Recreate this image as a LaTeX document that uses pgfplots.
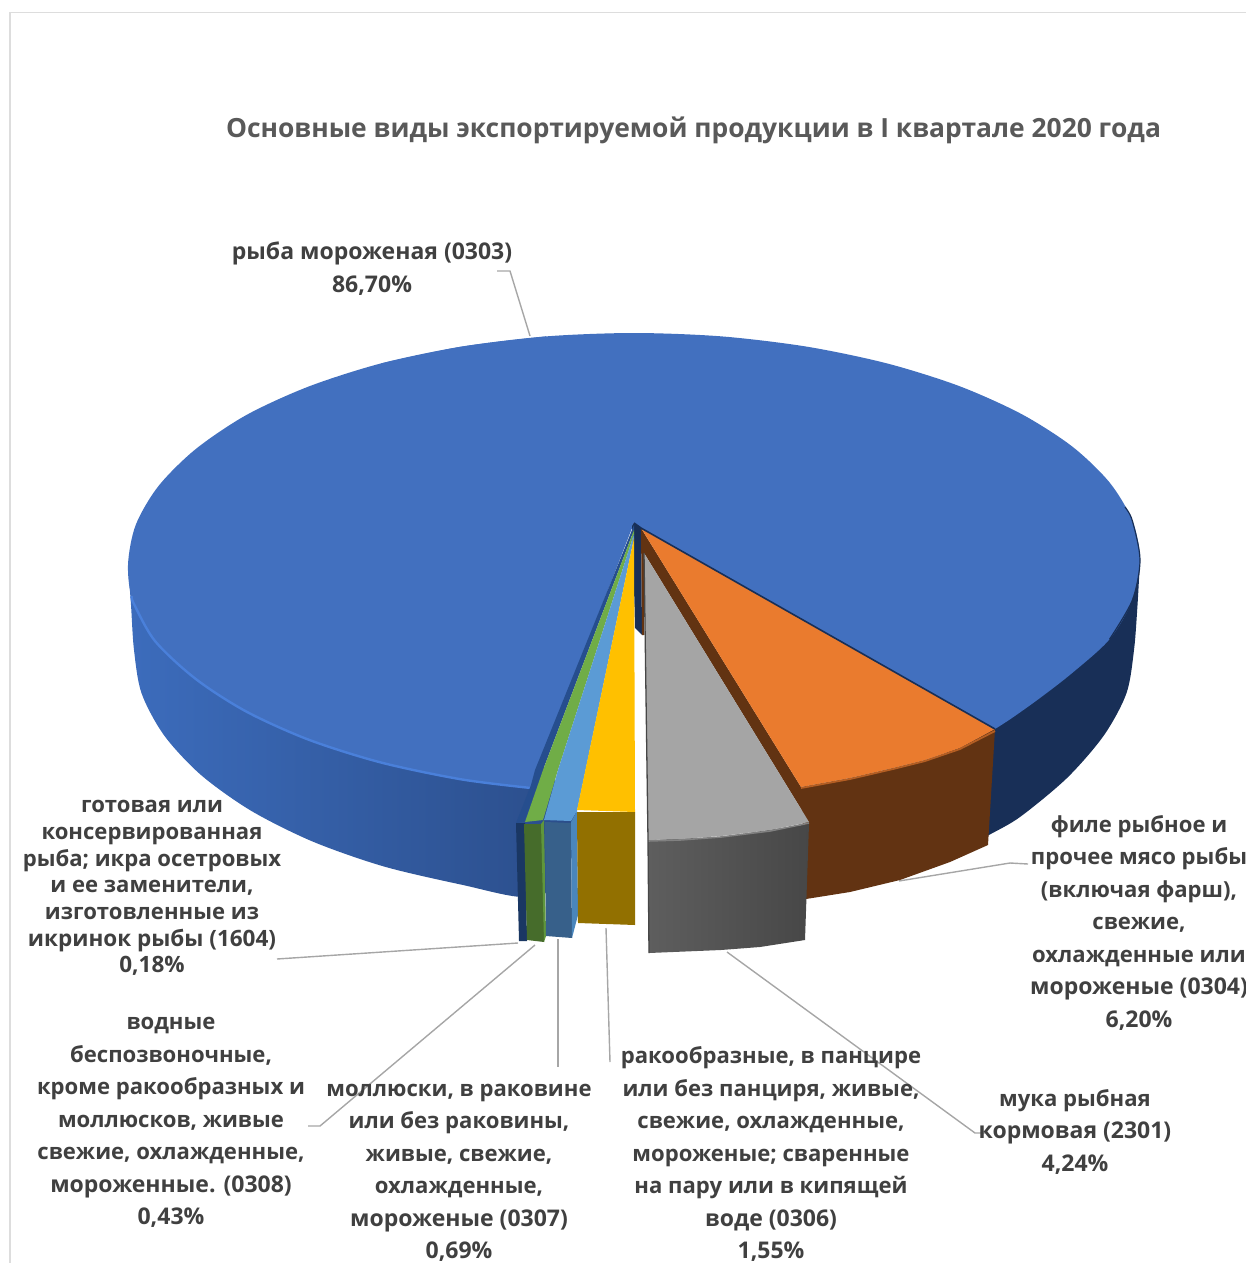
\documentclass[border=0pt]{standalone}
\usepackage{fontspec}
\setmainfont{Open Sans}
\usepackage{pgfplots}
\pgfplotsset{compat=1.18}
\definecolor{frameC}{HTML}{DDDDDD}
\definecolor{leader}{HTML}{A6A6A6}
\definecolor{txt}{HTML}{404040}
\definecolor{ttl}{HTML}{595959}
\definecolor{blueTop}{HTML}{4270BF}
\definecolor{blueBev}{HTML}{4A80DA}
\definecolor{blueL}{HTML}{3C6CBC}
\definecolor{blueR}{HTML}{2A4C88}
\definecolor{navy}{HTML}{182F57}
\definecolor{strip}{HTML}{264E8E}
\definecolor{stripS}{HTML}{1A3763}
\definecolor{orangeT}{HTML}{EA7B2E}
\definecolor{brown}{HTML}{623312}
\definecolor{grayT}{HTML}{A5A5A5}
\definecolor{grayL}{HTML}{5E5E5E}
\definecolor{grayR}{HTML}{474747}
\definecolor{greenT}{HTML}{70AD47}
\definecolor{greenS}{HTML}{466C2B}
\definecolor{greenE}{HTML}{5F963C}
\definecolor{lbT}{HTML}{5B9BD5}
\definecolor{lbS}{HTML}{37608A}
\definecolor{lbE}{HTML}{4A86BC}
\definecolor{yelT}{HTML}{FFC000}
\definecolor{yelS}{HTML}{927000}
\newcommand\s[1]{{\fontsize{22.1}{32.5}\selectfont #1}}
\begin{document}
\begin{tikzpicture}
\useasboundingbox (0,0) rectangle (1246pt,1263pt);
\clip (0,0) rectangle (1246pt,1263pt);
\begin{axis}[at={(0,0)},anchor=south west,scale only axis,width=1246pt,height=1263pt,
  xmin=0,xmax=1246,ymin=0,ymax=1263,y dir=reverse,hide axis,clip=false]
% frame
\addplot[frameC,line width=1.5pt] coordinates {(10,1270)(10,12.5)(1250,12.5)};
% leaders
\addplot[leader,line width=1.4pt] coordinates {(497,271)(510,271)(530,336)};
\addplot[leader,line width=1.4pt] coordinates {(899,881)(1010,863)(1028,864)};
\addplot[leader,line width=1.4pt] coordinates {(277,959)(518,943)};
\addplot[leader,line width=1.4pt] coordinates {(308,1126)(320,1126)(535,945)};
\addplot[leader,line width=1.4pt] coordinates {(558,939)(558,1067)};
\addplot[leader,line width=1.4pt] coordinates {(606,928)(610,1062)};
\addplot[leader,line width=1.4pt] coordinates {(727,952)(975,1133)(985,1133)};
% right side of the big slice
\addplot[fill=navy,draw=none,smooth] coordinates {(1140,560)(1137.5,605)(1134,650)(1126.4,693.4)(1103.8,735.5)(1067,778)(1020,817)(989,835)(970,846)(950,800)(960,700)(1100,540)};
% left side of the big slice
\addplot[left color=blueL,right color=blueR,draw=none,smooth] coordinates {(128,565)(131,605)(134,650)(141.6,693.4)(164.2,735.5)(201,775)(251,810.7)(312.6,841.5)(384,866.5)(463,885)(525,897)(560,880)(570,800)(400,640)(200,580)};
% top of the big slice: two arcs and the middle
\addplot[fill=blueTop,draw=none,smooth] coordinates {(995,729)(1012,718)(1040,698)(1072.2,673)(1109.5,639.3)(1132.3,600.3)(1140,560)(1132.3,520.6)(1109.5,482.4)(1072.2,446.5)(1021.6,414.1)(959.3,386.1)(887,363.4)(807.1,346.7)(721.8,336.4)(634,333)(546.1,336.4)(461,346.7)(381,363.4)};
\addplot[fill=blueTop,draw=none,smooth] coordinates {(546.1,336.4)(461,346.7)(381,363.4)(308.7,386.5)(246.4,415)(195.8,449)(158.5,486)(135.7,525)(128,565)(133,602)(155,641)(195.8,679)(246.4,711.6)(308.7,739.7)(381,762.5)(461,779.3)(531,788)};
\addplot[fill=blueTop,draw=none] coordinates {(634,523)(641,528)(995,729)(700,400)(450,450)(531,788)};
% bevels of the big slice
\addplot[blueBev,line width=2.4pt,smooth] coordinates {(132,596)(133.5,603)(155,641)(195.8,679)(246.4,711.6)(308.7,739.7)(381,762.5)(461,779.3)(531,788)};
\addplot[navy,line width=1.2pt,smooth] coordinates {(1125,507)(1132.3,520.6)(1140,560)(1132.3,600.3)(1109.5,639.3)};
% navy inner wall
\addplot[fill=navy,draw=none] coordinates {(632,526)(634,523)(641,528)(642,635)(635,628)(633,545)};
% 0.18 slice
\addplot[fill=strip,draw=none] coordinates {(634,525)(634,530)(543,770)(524,822)(516,823)(531,785)(535,770)};
\addplot[fill=stripS,draw=none] coordinates {(516,823)(525,823)(527,941)(519,941)};
% green slice
\addplot[fill=greenT,draw=none] coordinates {(634,530)(634,534)(558,770)(543,820)(525,822)(543,770)};
\addplot[fill=greenS,draw=none] coordinates {(524,824)(543,824)(544,942)(527,940)};
\addplot[fill=greenE,draw=none] coordinates {(541,824)(544,820)(546,936)(544,942)};
% light blue slice
\addplot[fill=lbT,draw=none] coordinates {(634,534)(634,538)(577,811)(571,821)(544,820)(558,770)};
\addplot[fill=lbS,draw=none] coordinates {(545,822)(571,823)(572,938)(546,936)};
\addplot[fill=lbE,draw=none] coordinates {(571,822)(577,811)(578,915)(572,938)};
% yellow slice
\addplot[fill=yelT,draw=none] coordinates {(634,538)(635,812)(577,810)};
\addplot[fill=yelS,draw=none] coordinates {(577,812)(635,812)(635,925)(578,923)};
% orange slice
\addplot[fill=brown,draw=none] coordinates {(995,729)(960,748)(925,760)(893,768)(850,778)(801,787)(806,899)(850,892)(900,880)(950,862)(988,845)};
\addplot[fill=brown,draw=none] coordinates {(641,528)(801,787)(809,822)(644,553)(644,635)(642,635)};
\addplot[fill=orangeT,draw=none] coordinates {(641,528)(995,729)(960,748)(925,760)(893,768)(850,778)(801,787)};
\addplot[color=orangeT!60!brown,line width=1.8pt] coordinates {(995,731)(960,749)(925,761)(893,769)(850,779)(801,788)};
\addplot[navy,line width=1.6pt] coordinates {(634,523)(641,528)(995,729)};
% grey slice
\addplot[left color=grayL,right color=grayR,draw=none] coordinates {(648,840)(721,837)(809,824)(805,940)(760,947)(721,950)(649,953)};
\addplot[fill=grayT,draw=none] coordinates {(644,553)(809,822)(770,830)(721,836)(680,839)(648,840)};
\addplot[color=grayT!50!grayL,line width=1.6pt] coordinates {(809,823)(770,831)(721,837)(680,840)(648,841)};
\addplot[color=grayR,line width=1.3pt] coordinates {(644,553)(648,840)(649,953)};
% texts
\tikzset{lab/.style={text=txt,align=center,inner sep=0pt,font=\fontsize{23}{32.5}\selectfont\bfseries}}
\node[text=ttl,inner sep=0pt,font=\fontsize{26.4}{34}\selectfont\bfseries] at (axis cs:693.5,130.5) {Основные виды экспортируемой продукции в I квартале 2020 года};
\node[lab] at (axis cs:372,268.5) {рыба мороженая (0303)\\86,70\%};
\node[lab] at (axis cs:1139,922.5) {\s{филе рыбное и}\\\s{прочее мясо рыбы}\\\s{(включая фарш),}\\\s{свежие,}\\\s{охлажденные или}\\мороженые (0304)\\6,20\%};
\node[lab] at (axis cs:1075,1131.5) {\s{мука рыбная}\\кормовая (2301)\\4,24\%};
\node[lab] at (axis cs:771,1154) {\s{ракообразные, в панцире}\\\s{или без панциря, живые,}\\\s{свежие, охлажденные,}\\\s{мороженые; сваренные}\\\s{на пару или в кипящей}\\воде (0306)\\1,55\%};
\node[lab] at (axis cs:459,1173) {\s{моллюски, в раковине}\\\s{или без раковины,}\\\s{живые, свежие,}\\\s{охлажденные,}\\мороженые (0307)\\0,69\%};
\node[lab] at (axis cs:171,1122.5) {\s{водные}\\\s{беспозвоночные,}\\\s{кроме ракообразных и}\\\s{моллюсков, живые}\\\s{свежие, охлажденные,}\\мороженные. (0308)\\0,43\%};
\node[lab,font=\fontsize{22.5}{26.7}\selectfont\bfseries] at (axis cs:152,888) {\s{готовая или}\\\s{консервированная}\\\s{рыба; икра осетровых}\\\s{и ее заменители,}\\\s{изготовленные из}\\икринок рыбы (1604)\\0,18\%};
\end{axis}
\end{tikzpicture}
\end{document}
